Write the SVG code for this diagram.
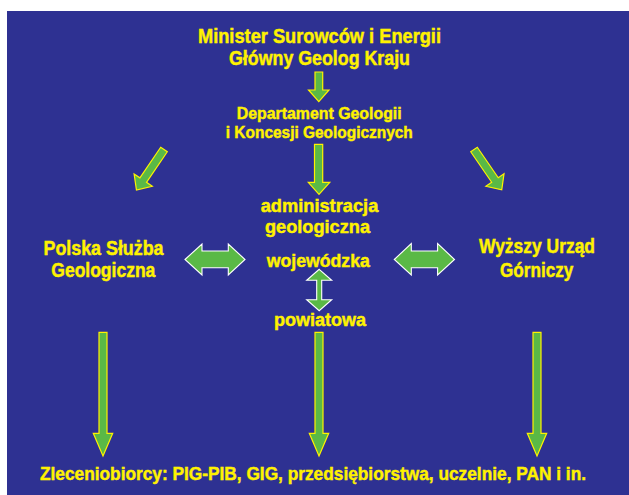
<svg xmlns="http://www.w3.org/2000/svg" width="629" height="495" viewBox="0 0 629 495">
<defs>
<style>
.t{font-family:"Liberation Sans","Arial",sans-serif;font-weight:bold;fill:#fff200;stroke:#fff200;stroke-width:0.45;text-anchor:middle}
.a{fill:#5ab946;stroke:#fff200;stroke-width:1.2;stroke-linejoin:miter}
.d{fill:#5ab946;stroke:#ffffff;stroke-width:1.1;stroke-linejoin:miter}
</style>
</defs>
<rect x="0" y="0" width="629" height="495" fill="#ffffff"/>
<rect x="7" y="11" width="622" height="484" fill="#2e3192"/>

<g id="minister">
<text class="t" x="319.5" y="42.5" font-size="19.8" textLength="243" lengthAdjust="spacingAndGlyphs">Minister Surowców i Energii</text>
<text class="t" x="319.5" y="64.5" font-size="19.8" textLength="181" lengthAdjust="spacingAndGlyphs">Główny Geolog Kraju</text>
</g>
<g id="departament">
<text class="t" x="319.2" y="119" font-size="17.2" textLength="165" lengthAdjust="spacingAndGlyphs">Departament Geologii</text>
<text class="t" x="319.3" y="138.3" font-size="17.2" textLength="187" lengthAdjust="spacingAndGlyphs">i Koncesji Geologicznych</text>
</g>
<g id="administracja">
<text class="t" x="319.5" y="212.3" font-size="18.8" textLength="117.6" lengthAdjust="spacingAndGlyphs">administracja</text>
<text class="t" x="317.5" y="233.3" font-size="18.8" textLength="105" lengthAdjust="spacingAndGlyphs">geologiczna</text>
<text class="t" x="318.3" y="267.3" font-size="18.8" textLength="103" lengthAdjust="spacingAndGlyphs">wojewódzka</text>
</g>
<g id="powiatowa">
<text class="t" x="320" y="325.7" font-size="18.8" textLength="92" lengthAdjust="spacingAndGlyphs">powiatowa</text>
</g>
<g id="psg">
<text class="t" x="103.5" y="255" font-size="19.8" textLength="120" lengthAdjust="spacingAndGlyphs">Polska Służba</text>
<text class="t" x="103.3" y="276.5" font-size="19.8" textLength="104" lengthAdjust="spacingAndGlyphs">Geologiczna</text>
</g>
<g id="wug">
<text class="t" x="537" y="253.3" font-size="19.8" textLength="116" lengthAdjust="spacingAndGlyphs">Wyższy Urząd</text>
<text class="t" x="536.7" y="277" font-size="19.8" textLength="73.3" lengthAdjust="spacingAndGlyphs">Górniczy</text>
</g>
<g id="zleceniobiorcy">
<text class="t" x="313" y="480" font-size="18.5" textLength="546" lengthAdjust="spacingAndGlyphs">Zleceniobiorcy: PIG-PIB, GIG, przedsiębiorstwa, uczelnie, PAN i in.</text>
</g>

<g id="connectors">
<polygon class="a" points="315,72 322.7,72 322.7,90 329,90 318.8,101.7 308.5,90 315,90"/>
<polygon class="a" points="314.5,144.3 322.7,144.3 322.7,182.3 329.8,182.3 319,194.3 308.3,182.3 314.5,182.3"/>
<g transform="translate(164,149.5) rotate(34.2)">
<polygon class="a" points="-4,0 4,0 4,37 11,37 0,49 -11,37 -4,37"/>
</g>
<g transform="translate(474,149.5) rotate(-34.5)">
<polygon class="a" points="-4,0 4,0 4,37 11,37 0,49 -11,37 -4,37"/>
</g>
<polygon class="d" points="185,259.5 202,244 202,251 228.3,251 228.3,244 245,259.5 228.3,275 228.3,267.7 202,267.7 202,275"/>
<polygon class="d" points="394.3,259.5 411.3,243.5 411.3,251 437.6,251 437.6,243.5 454.5,259.5 437.6,275 437.6,267.7 411.3,267.7 411.3,275"/>
<polygon class="d" points="319.2,269.3 331.7,280.3 321.7,280.3 321.7,299.7 331.7,299.7 319.2,310.7 306.7,299.7 316.7,299.7 316.7,280.3 306.7,280.3"/>
<polygon class="a" points="99,332.3 107,332.3 107,433.3 112.7,433.3 103,456 93.3,433.3 99,433.3"/>
<polygon class="a" points="315,332.3 323,332.3 323,433.3 328.7,433.3 319,456 309.3,433.3 315,433.3"/>
<polygon class="a" points="533,332.3 541,332.3 541,433.3 546.7,433.3 537,456 527.3,433.3 533,433.3"/>
</g>
</svg>
